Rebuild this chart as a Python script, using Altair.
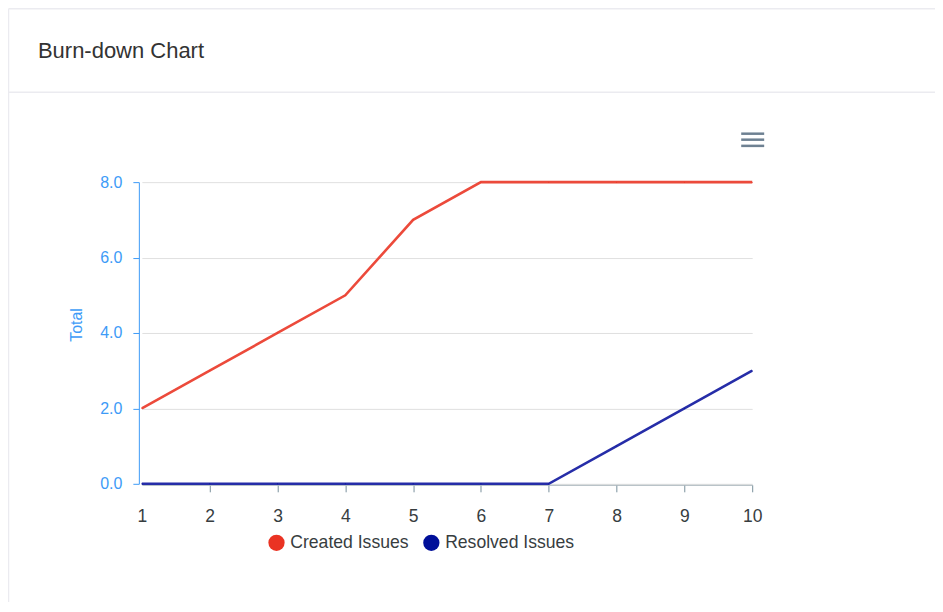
import altair as alt
import pandas as pd

days = [1, 2, 3, 4, 5, 6, 7, 8, 9, 10]
created = [2, 3, 4, 5, 7, 8, 8, 8, 8, 8]
resolved = [0, 0, 0, 0, 0, 0, 0, 1, 2, 3]
series_names = ["Created Issues", "Resolved Issues"]
line_colors = ["#ec4a3b", "#262da8"]
marker_colors = ["#ea3323", "#000f99"]
y_ticks = [0, 2, 4, 6, 8]

rows = []
for d, c, r in zip(days, created, resolved):
    rows.append({"day": d, "total": c, "series": series_names[0]})
    rows.append({"day": d, "total": r, "series": series_names[1]})
df = pd.DataFrame(rows)

W, H = 611, 302
PL, PT = 134, 174

x_enc = alt.X("day:Q", scale=alt.Scale(domain=[1, 10], nice=False, zero=False),
              axis=alt.Axis(values=days, format="d", title=None, grid=False,
                            domainColor="#a8b4bb", tickColor="#78909c", tickSize=7,
                            tickOpacity={"expr": "datum.value == 1 ? 0 : 1"},
                            offset=1, labelColor="#373d3f", labelFontSize=17.5,
                            labelPadding=16, labelFont="Liberation Sans", labelFlush=False))
y_enc = alt.Y("total:Q", scale=alt.Scale(domain=[0, 8], nice=False),
              axis=alt.Axis(values=y_ticks, format=".1f", title=None, grid=True,
                            gridColor="#e0e0e0", domainColor="#3d9bf7", tickColor="#3d9bf7",
                            tickSize=6, offset=3, labelColor="#3d9bf7", labelFontSize=16,
                            labelPadding=11, labelFont="Liberation Sans", labelFlush=False))

line_layers = []
for name, col in zip(series_names, line_colors):
    line_layers.append(
        alt.Chart(df).transform_filter(alt.datum.series == name)
        .mark_line(strokeWidth=2.6, color=col)
        .encode(x=x_enc, y=y_enc)
    )

points = alt.Chart(df).mark_point(filled=True, size=1, opacity=1).encode(
    x="day:Q", y="total:Q",
    color=alt.Color("series:N", scale=alt.Scale(domain=series_names, range=marker_colors),
                    legend=alt.Legend(orient="none", legendX=126, legendY=352, direction="horizontal",
                                      title=None, symbolType="circle", symbolSize=265,
                                      symbolStrokeWidth=0, symbolOpacity=1,
                                      labelFontSize=17.6, labelColor="#373d3f",
                                      labelFont="Liberation Sans", labelOffset=5,
                                      columnPadding=14, padding=0, offset=0)),
)

one = pd.DataFrame({"a": [0]})

def rule(x1, x2, y1, y2, color, width):
    return alt.Chart(one).mark_rule(color=color, strokeWidth=width).encode(
        x=alt.value(x1), x2=alt.value(x2), y=alt.value(y1), y2=alt.value(y2))

card = [
    rule(-133.5, -133.5, -173.5, 440, "#ebebf0", 1.5),
    rule(-133.5, 820, -173.5, -173.5, "#ebebf0", 1.5),
    rule(-133.5, 820, -90, -90, "#ebebf0", 1.5),
]
menu = [
    rule(600, 623, yy, yy, "#6e8192", 2.5) for yy in (-48.5, -42.5, -36.3)
]

title = alt.Chart(one).mark_text(align="left", baseline="alphabetic", fontSize=22,
                                 font="Liberation Sans", color="#333333").encode(
    x=alt.value(-104), y=alt.value(-124), text=alt.value("Burn-down Chart"))

ytitle = alt.Chart(one).mark_text(align="center", baseline="middle", angle=270, fontSize=16,
                                  font="Liberation Sans", color="#3d9bf7").encode(
    x=alt.value(-65), y=alt.value(143), text=alt.value("Total"))

chart = alt.layer(*card, *menu, title, ytitle, *line_layers, points).properties(
    width=W, height=H,
    autosize=alt.AutoSizeParams(type="none"),
    padding={"left": PL, "top": PT, "right": 183, "bottom": 118},
    background="white",
).configure_view(strokeWidth=0)

chart.save("out.html", embed_options={"renderer": "svg", "actions": False})
